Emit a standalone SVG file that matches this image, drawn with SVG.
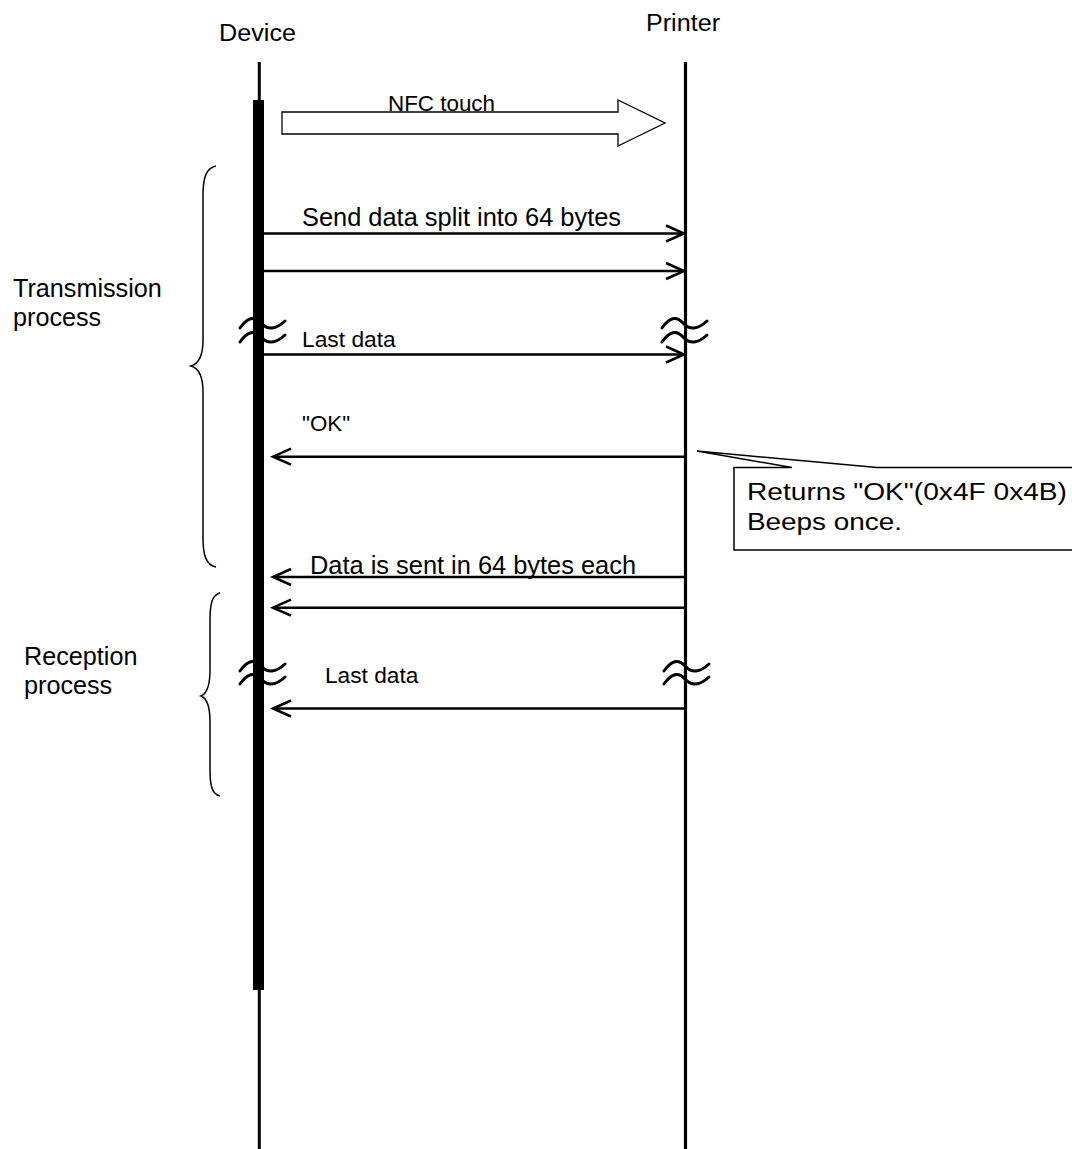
<svg xmlns="http://www.w3.org/2000/svg" xmlns:xlink="http://www.w3.org/1999/xlink" width="1072" height="1149" viewBox="0 0 1072 1149">
  <style>
    text { font-family: "Liberation Sans", Arial, sans-serif; fill: #000; }
    .msg { stroke: #000; stroke-width: 2.5; fill: none; }
    .brace { stroke: #000; stroke-width: 1.5; fill: none; }
    .brk { stroke: #000; stroke-width: 3; fill: none; stroke-linecap: round; }
  </style>
  <defs>
    <marker id="open" markerWidth="22" markerHeight="22" refX="18" refY="9" orient="auto" markerUnits="userSpaceOnUse" overflow="visible">
      <path d="M0,1 L18,9 L0,17" fill="none" stroke="#000" stroke-width="2.5"/>
    </marker>
    <path id="tilde" d="M-20,4 Q-9,-12 1,-1 T25,-3"/>
  </defs>
  <rect width="1072" height="1149" fill="#fff"/>

  <g id="device">
    <line x1="259.3" y1="62" x2="259.3" y2="1149" stroke="#000" stroke-width="3"/>
    <rect x="253" y="100" width="11" height="890" fill="#000"/>
    <text x="219" y="41" font-size="23" textLength="77" lengthAdjust="spacingAndGlyphs">Device</text>
  </g>

  <g id="printer">
    <line x1="685.5" y1="62" x2="685.5" y2="1149" stroke="#000" stroke-width="3.2"/>
    <text x="646" y="31" font-size="23" textLength="74" lengthAdjust="spacingAndGlyphs">Printer</text>
  </g>

  <g id="nfc-touch">
    <polygon points="282,112 618,112 618,100 665,123 618,146 618,134 282,134" fill="#fff" stroke="#000" stroke-width="1.3"/>
    <text x="388" y="111" font-size="22.4">NFC touch</text>
  </g>

  <g id="connectors">
    <line class="msg" x1="264" y1="233.5" x2="684" y2="233.5" marker-end="url(#open)"/>
    <line class="msg" x1="264" y1="271" x2="684" y2="271" marker-end="url(#open)"/>
    <line class="msg" x1="264" y1="354.5" x2="684" y2="354.5" marker-end="url(#open)"/>
    <line class="msg" x1="685" y1="456.7" x2="273" y2="456.7" marker-end="url(#open)"/>
    <line class="msg" x1="685" y1="577" x2="273" y2="577" marker-end="url(#open)"/>
    <line class="msg" x1="685" y1="607.7" x2="273" y2="607.7" marker-end="url(#open)"/>
    <line class="msg" x1="685" y1="708.5" x2="273" y2="708.5" marker-end="url(#open)"/>
  </g>

  <g id="message-labels">
    <text x="302" y="226" font-size="25.4">Send data split into 64 bytes</text>
    <text x="302" y="347" font-size="22.8">Last data</text>
    <text x="302" y="431" font-size="22.3">"OK"</text>
    <text x="310" y="574" font-size="25.4">Data is sent in 64 bytes each</text>
    <text x="325" y="683" font-size="22.7">Last data</text>
  </g>

  <g id="breaks">
    <use xlink:href="#tilde" class="brk" transform="translate(260,324)"/>
    <use xlink:href="#tilde" class="brk" transform="translate(260,338)"/>
    <use xlink:href="#tilde" class="brk" transform="translate(682,324)"/>
    <use xlink:href="#tilde" class="brk" transform="translate(682,338)"/>
    <use xlink:href="#tilde" class="brk" transform="translate(260,667)"/>
    <use xlink:href="#tilde" class="brk" transform="translate(260,680)"/>
    <use xlink:href="#tilde" class="brk" transform="translate(684,667)"/>
    <use xlink:href="#tilde" class="brk" transform="translate(684,680)"/>
  </g>

  <g id="transmission-process">
    <path class="brace" d="M216,166 C206,168 203,178 203,195 L203,340 C203,357 198,364 191,366 C198,368 203,375 203,392 L203,538 C203,555 206,565 216,567"/>
    <text x="13" y="297" font-size="25.2">Transmission</text>
    <text x="13" y="326" font-size="25.2">process</text>
  </g>

  <g id="reception-process">
    <path class="brace" d="M220,593 C212,595 210,604 210,620 L210,670 C210,687 206,694 201,696 C206,698 210,705 210,722 L210,770 C210,786 212,794 220,796"/>
    <text x="24" y="665" font-size="25.2">Reception</text>
    <text x="24" y="694" font-size="25.2">process</text>
  </g>

  <g id="callout">
    <path d="M792,467.5 L734,467.5 L734,550 L1080,550 L1080,467.5 L877,467.5 L697,451 Z" fill="#fff" stroke="#000" stroke-width="1.5"/>
    <text x="747" y="499.5" font-size="23.5" textLength="320" lengthAdjust="spacingAndGlyphs">Returns "OK"(0x4F 0x4B)</text>
    <text x="747" y="530" font-size="23.5" textLength="155" lengthAdjust="spacingAndGlyphs">Beeps once.</text>
  </g>
</svg>
